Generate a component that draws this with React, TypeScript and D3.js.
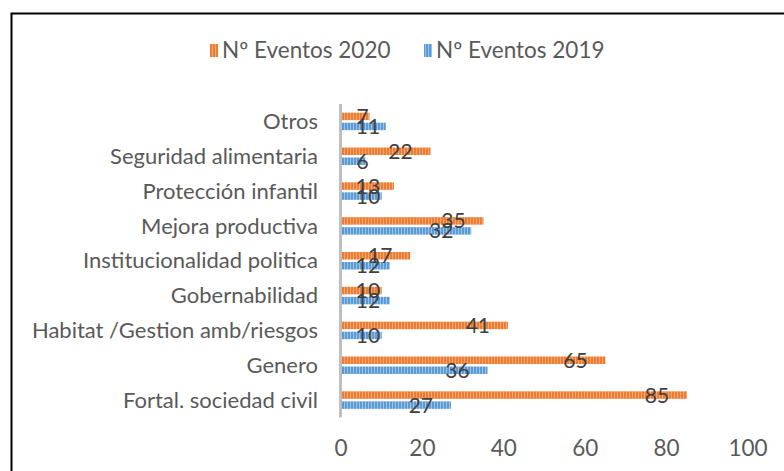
import React, { useEffect, useRef } from 'react';
import * as d3 from 'd3';

// categories, top to bottom
const categories = [
  'Otros',
  'Seguridad alimentaria',
  'Protección infantil',
  'Mejora productiva',
  'Institucionalidad politica',
  'Gobernabilidad ',
  'Habitat /Gestion amb/riesgos',
  'Genero',
  'Fortal. sociedad civil',
];
const eventos2020 = [7, 22, 13, 35, 17, 10, 41, 65, 85];
const eventos2019 = [11, 6, 10, 32, 12, 12, 10, 36, 27];
const xTicks = [0, 20, 40, 60, 80, 100];
const seriesNames = ['Nº Eventos 2020', 'Nº Eventos 2019'];

export default function App() {
  const ref = useRef<SVGSVGElement>(null);

  useEffect(() => {
    const width = 784;
    const height = 471;
    const font = 'Lato, "Open Sans", sans-serif';
    const textColor = '#595959';
    const labelColor = '#404040';

    const svg = d3.select(ref.current);
    svg.selectAll('*').remove();

    // stripe patterns
    const defs = svg.append('defs');
    const stripes = [
      { id: 'stripe2020', base: '#ED7D31', light: '#F4A574' },
      { id: 'stripe2019', base: '#5B9BD5', light: '#9CC3E6' },
    ];
    stripes.forEach(s => {
      const p = defs.append('pattern')
        .attr('id', s.id)
        .attr('patternUnits', 'userSpaceOnUse')
        .attr('width', 3)
        .attr('height', 10);
      p.append('rect').attr('width', 3).attr('height', 10).attr('fill', s.base);
      p.append('rect').attr('x', 2).attr('width', 1).attr('height', 10).attr('fill', s.light);
    });

    // border
    svg.append('path')
      .attr('d', `M11.5,${height + 5} V13.5 H${width + 5}`)
      .attr('fill', 'none')
      .attr('stroke', '#000')
      .attr('stroke-width', 2);

    // scales
    const x = d3.scaleLinear().domain([0, 100]).range([341, 748]);
    const y = d3.scaleBand().domain(categories).range([104, 417.5]);
    const barH = 7.5;
    const gap = 2.5;

    const graph = svg.append('g');

    // bars
    const groups = [
      { values: eventos2020, fill: 'url(#stripe2020)', offset: -gap / 2 - barH },
      { values: eventos2019, fill: 'url(#stripe2019)', offset: gap / 2 },
    ];
    groups.forEach(g => {
      graph.append('g').selectAll('rect')
        .data(g.values)
        .enter()
        .append('rect')
          .attr('x', x(0))
          .attr('y', (d, i) => y(categories[i])! + y.bandwidth() / 2 + g.offset)
          .attr('width', d => x(d) - x(0))
          .attr('height', barH)
          .attr('fill', g.fill);
    });

    // vertical axis line
    graph.append('line')
      .attr('x1', 340.5).attr('x2', 340.5)
      .attr('y1', 104).attr('y2', 417.5)
      .attr('stroke', '#BFBFBF')
      .attr('stroke-width', 3);

    // category labels
    graph.append('g').selectAll('text')
      .data(categories)
      .enter()
      .append('text')
        .attr('x', 318)
        .attr('y', d => y(d)! + y.bandwidth() / 2)
        .attr('dy', '0.35em')
        .attr('text-anchor', 'end')
        .attr('font-family', font)
        .attr('font-size', 22)
        .attr('fill', textColor)
        .text(d => d);

    // data labels
    groups.forEach(g => {
      graph.append('g').selectAll('text')
        .data(g.values)
        .enter()
        .append('text')
          .attr('x', d => {
            const w = String(d).length * 5.5;
            return Math.max(x(d) - 30, x(0) + 16 + w);
          })
          .attr('y', (d, i) => y(categories[i])! + y.bandwidth() / 2 + g.offset + barH / 2)
          .attr('dy', '0.36em')
          .attr('text-anchor', 'middle')
          .attr('font-family', font)
          .attr('font-size', 21)
          .attr('fill', labelColor)
          .text(d => d);
    });

    // x tick labels
    graph.append('g').selectAll('text')
      .data(xTicks)
      .enter()
      .append('text')
        .attr('x', d => x(d))
        .attr('y', 448)
        .attr('dy', '0.35em')
        .attr('text-anchor', 'middle')
        .attr('font-family', font)
        .attr('font-size', 22.5)
        .attr('fill', textColor)
        .text(d => d);

    // legend
    const legend = svg.append('g');
    const legendX = [210, 424];
    seriesNames.forEach((name, i) => {
      legend.append('rect')
        .attr('x', legendX[i])
        .attr('y', 44)
        .attr('width', 8)
        .attr('height', 13)
        .attr('fill', i === 0 ? 'url(#stripe2020)' : 'url(#stripe2019)');
      legend.append('text')
        .attr('x', legendX[i] + 12)
        .attr('y', 50.5)
        .attr('dy', '0.35em')
        .attr('font-family', font)
        .attr('font-size', 22.5)
        .attr('fill', textColor)
        .text(name);
    });
  }, []);

  return (
    <svg
      ref={ref}
      width={784}
      height={471}
      style={{ position: 'absolute', left: 0, top: 0, background: '#fff' }}
    />
  );
}
